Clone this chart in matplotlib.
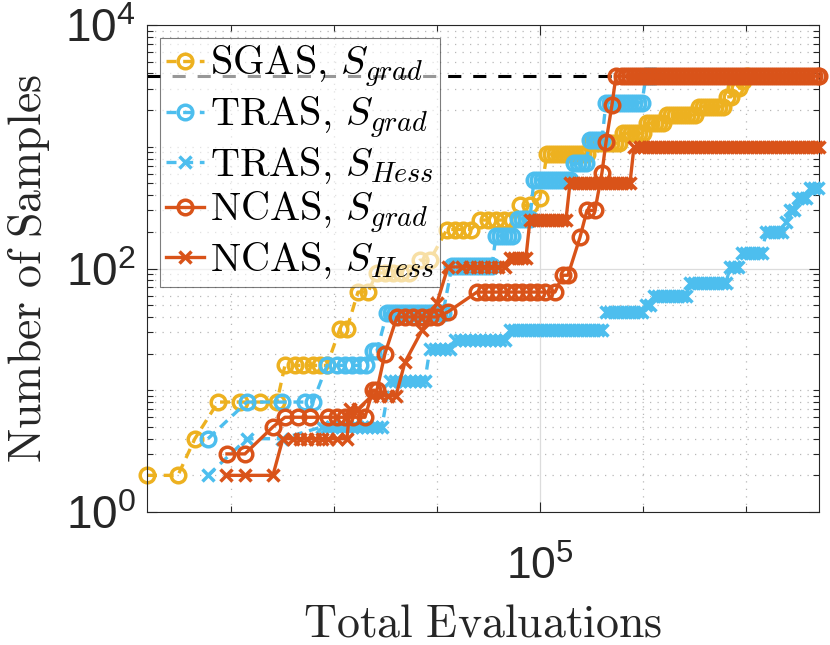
import numpy as np
import matplotlib
matplotlib.use('Agg')
import matplotlib.pyplot as plt
from matplotlib.ticker import NullFormatter

plt.rcParams['font.family'] = ['Liberation Sans', 'DejaVu Sans']
plt.rcParams['mathtext.fontset'] = 'cm'

# Total evaluations (thousands) and number of samples, per method
sgas_grad_x = [17.27, 19.83, 21.39, 23.72, 26.16, 28.61, 30.87, 31.99, 33.45, 34.67,
               36.25, 37.41, 38.60, 40.90, 42.20, 44.33, 46.36, 48.26, 50.02, 51.84,
               53.73, 55.68, 58.49, 61.16, 65.99, 68.39, 70.89, 73.46, 76.48, 79.26,
               82.14, 85.14, 88.24, 91.45, 95.63, 100.0, 103.18, 105.04, 106.93, 108.86,
               110.83, 112.83, 114.86, 116.94, 119.05, 121.20, 123.38, 125.61, 127.88, 130.18,
               132.53, 134.92, 137.36, 139.83, 142.35, 144.92, 147.54, 150.20, 152.91, 155.66,
               158.47, 161.33, 164.24, 167.21, 170.22, 173.29, 176.42, 179.60, 182.84, 186.14,
               189.50, 192.91, 196.39, 199.95, 203.56, 207.23, 210.96, 214.77, 218.64, 222.59,
               226.60, 230.70, 234.86, 239.10, 243.41, 247.80, 252.27]
sgas_grad_y = [2, 2, 4, 8, 8, 8, 8, 16, 16, 16,
               16, 16, 16, 32, 32, 64, 64, 92, 92, 92,
               92, 92, 117, 117, 209, 209, 209, 209, 250, 250,
               250, 250, 250, 330, 330, 380, 870, 870, 870, 870,
               870, 870, 870, 870, 870, 870, 870, 1070, 1070, 1070,
               1070, 1070, 1070, 1070, 1070, 1290, 1290, 1290, 1290, 1290,
               1290, 1560, 1560, 1560, 1560, 1560, 1820, 1820, 1820, 1820,
               1820, 1820, 1820, 1820, 2130, 2130, 2130, 2130, 2130, 2130,
               2130, 2570, 2570, 3030, 3030, 3500, 3800]

tras_grad_x = [22.68, 26.99, 31.56, 34.98, 36.25, 38.60, 40.36, 41.82, 43.15, 44.73,
               45.94, 47.40, 48.26, 50.47, 51.38, 52.31, 53.25, 54.21, 55.19, 56.18,
               57.19, 58.23, 59.28, 60.35, 61.43, 62.54, 63.67, 64.82, 67.48, 68.70,
               69.94, 71.20, 72.49, 73.79, 75.12, 76.48, 77.86, 79.26, 80.69, 82.14,
               83.63, 85.14, 86.67, 88.24, 90.63, 92.27, 93.94, 95.63, 97.35, 99.11,
               100.90, 102.72, 104.57, 106.45, 108.37, 110.33, 112.32, 114.35, 116.42, 118.52,
               120.66, 122.83, 125.05, 127.30, 129.60, 131.93, 134.32, 136.74, 139.21, 141.72,
               144.27, 146.88, 149.53, 152.23, 154.98, 157.78, 160.62, 163.51, 166.46]
tras_grad_y = [4, 8, 8, 8, 8, 16, 16, 16, 16, 16,
               16, 21, 21, 43, 43, 43, 43, 43, 43, 43,
               43, 43, 43, 43, 43, 43, 43, 43, 105, 105,
               105, 105, 105, 105, 105, 105, 105, 105, 105, 185,
               185, 185, 185, 185, 256, 256, 256, 256, 535, 535,
               535, 535, 535, 535, 535, 535, 535, 535, 730, 730,
               730, 730, 1140, 1140, 1140, 1140, 2300, 2300, 2300, 2300,
               2300, 2300, 2300, 2300, 2300, 2300, 3800, 3800, 3800]

tras_hess_x = [22.68, 26.99, 31.56, 37.75, 38.60, 39.47, 40.36, 41.27, 42.20, 43.15,
               44.13, 45.13, 46.15, 47.19, 48.26, 49.35, 51.15, 52.31, 53.49, 54.70,
               55.93, 57.19, 58.49, 59.81, 61.16, 62.54, 63.96, 65.41, 66.88, 68.39,
               69.94, 71.52, 73.13, 74.78, 76.48, 78.21, 79.97, 81.78, 83.63, 85.52,
               87.45, 89.03, 90.63, 92.27, 93.94, 95.63, 97.35, 99.11, 100.90, 102.72,
               104.57, 106.45, 108.37, 110.33, 112.32, 114.35, 116.42, 118.52, 120.66, 122.83,
               125.05, 127.30, 129.60, 131.93, 134.32, 136.74, 139.21, 141.72, 144.27, 146.88,
               149.53, 152.23, 154.98, 157.78, 160.62, 163.51, 166.46, 169.47, 172.53, 175.64,
               178.80, 182.03, 185.31, 188.66, 192.06, 195.53, 199.06, 202.65, 206.31, 210.03,
               213.81, 217.67, 221.60, 225.60, 229.67, 233.81, 238.03, 242.33, 246.70, 251.15,
               255.68, 260.29, 264.99, 269.77, 274.64, 279.59, 284.64, 289.77, 295.00, 300.32,
               305.74, 311.26, 316.87, 322.59, 328.41, 334.33, 340.37, 346.51]
tras_hess_y = [2, 4, 4, 5, 5, 5, 5, 5, 5, 5,
               5, 5, 5, 5, 5, 5, 12, 12, 12, 12,
               12, 12, 12, 12, 22, 22, 22, 22, 22, 26,
               26, 26, 26, 26, 26, 26, 26, 26, 26, 26,
               31, 31, 31, 31, 31, 31, 31, 31, 31, 31,
               31, 31, 31, 31, 31, 31, 31, 31, 31, 31,
               31, 31, 31, 31, 44, 44, 44, 44, 44, 44,
               44, 44, 44, 44, 50, 50, 60, 60, 60, 60,
               60, 60, 60, 60, 60, 76, 76, 76, 76, 76,
               76, 76, 76, 76, 76, 102, 102, 102, 134, 134,
               134, 134, 134, 134, 200, 200, 200, 200, 200, 240,
               300, 300, 380, 380, 380, 460, 460, 460]

ncas_grad_x = [24.69, 26.75, 30.32, 31.99, 33.91, 35.77, 38.77, 40.36, 41.82, 43.35,
               45.74, 47.40, 48.26, 50.02, 52.78, 54.70, 56.69, 59.02, 61.16, 63.10,
               66.29, 75.45, 78.21, 80.69, 83.26, 86.29, 89.43, 92.27, 95.63, 98.67,
               102.26, 106.93, 110.83, 113.33, 119.58, 123.38, 127.88, 131.93, 134.32, 137.97,
               140.46, 144.27, 146.88, 149.53, 152.23, 154.98, 157.78, 160.62, 163.51, 166.46,
               169.47, 172.53, 175.64, 178.80, 182.03, 185.31, 188.66, 192.06, 195.53, 199.06,
               202.65, 206.31, 210.03, 213.81, 217.67, 221.60, 225.60, 229.67, 233.81, 238.03,
               242.33, 246.70, 251.15, 255.68, 260.29, 264.99, 269.77, 274.64, 279.59, 284.64,
               289.77, 295.00, 300.32, 305.74, 311.26, 316.87, 322.59, 328.41, 334.33, 340.37,
               346.51, 348.06]
ncas_grad_y = [3, 3, 5, 6, 6, 6, 6, 6, 6, 6,
               6, 10, 10, 20, 40, 40, 40, 40, 40, 40,
               44, 64, 64, 64, 64, 64, 64, 64, 64, 64,
               64, 64, 88, 88, 180, 300, 300, 610, 1090, 2200,
               3800, 3800, 3800, 3800, 3800, 3800, 3800, 3800, 3800, 3800,
               3800, 3800, 3800, 3800, 3800, 3800, 3800, 3800, 3800, 3800,
               3800, 3800, 3800, 3800, 3800, 3800, 3800, 3800, 3800, 3800,
               3800, 3800, 3800, 3800, 3800, 3800, 3800, 3800, 3800, 3800,
               3800, 3800, 3800, 3800, 3800, 3800, 3800, 3800, 3800, 3800,
               3800, 3800]

ncas_hess_x = [24.58, 26.75, 30.32, 31.70, 33.15, 34.21, 35.29, 36.58, 37.75, 38.77,
               40.36, 42.20, 42.77, 44.33, 47.19, 48.91, 50.70, 52.54, 54.70, 59.02,
               63.10, 66.29, 70.57, 73.13, 75.45, 77.86, 80.33, 82.88, 85.52, 87.45,
               89.03, 90.63, 92.27, 93.94, 95.63, 97.35, 99.11, 100.90, 102.72, 104.57,
               106.45, 108.37, 110.33, 112.32, 114.35, 116.42, 118.52, 120.66, 122.83, 125.05,
               127.30, 129.60, 131.93, 134.32, 136.74, 139.21, 141.72, 144.27, 146.88, 149.53,
               152.23, 156.36, 159.18, 162.05, 164.97, 167.95, 170.99, 174.07, 177.22, 180.41,
               183.67, 186.98, 190.36, 193.79, 197.29, 200.85, 204.47, 208.16, 211.92, 215.74,
               219.64, 223.59, 227.63, 231.73, 235.92, 240.17, 244.50, 248.92, 253.41, 257.98,
               262.64, 267.37, 272.20, 277.11, 282.11, 287.20, 292.37, 297.65, 303.02, 308.49,
               314.05, 319.72, 325.49, 331.37, 337.35, 343.43, 348.06]
ncas_hess_y = [2, 2, 2, 4, 4, 4, 4, 4, 4, 4,
               4, 4, 7, 7, 9, 9, 9, 9, 17, 31,
               52, 103, 103, 103, 103, 103, 103, 103, 103, 123,
               123, 123, 123, 123, 250, 250, 250, 250, 250, 250,
               250, 250, 250, 250, 500, 500, 500, 500, 500, 500,
               500, 500, 500, 500, 500, 500, 500, 500, 500, 500,
               1000, 1000, 1000, 1000, 1000, 1000, 1000, 1000, 1000, 1000,
               1000, 1000, 1000, 1000, 1000, 1000, 1000, 1000, 1000, 1000,
               1000, 1000, 1000, 1000, 1000, 1000, 1000, 1000, 1000, 1000,
               1000, 1000, 1000, 1000, 1000, 1000, 1000, 1000, 1000, 1000,
               1000, 1000, 1000, 1000, 1000, 1000, 1000]

sample_cap = 3800
x_range = [17.27, 348.06]   # thousands of evaluations
y_range = [1, 1e4]

# MATLAB default colours
c_yel = '#EDB120'
c_blu = '#4DBEEE'
c_red = '#D95319'

fig = plt.figure(figsize=(8.3, 6.45), dpi=100)
ax = fig.add_axes([147/830, 1-512/645, 672/830, 487/645])

ax.axhline(sample_cap, color='k', lw=2.2, ls=(0, (4.3, 3.9)), zorder=1)

series = [
    (sgas_grad_x, sgas_grad_y, c_yel, 'o', (0, (3.0, 2.0)), r'$\mathrm{SGAS,}\,S_{grad}$'),
    (tras_grad_x, tras_grad_y, c_blu, 'o', (0, (3.0, 2.0)), r'$\mathrm{TRAS,}\,S_{grad}$'),
    (tras_hess_x, tras_hess_y, c_blu, 'x', (0, (3.0, 2.0)), r'$\mathrm{TRAS,}\,S_{Hess}$'),
    (ncas_grad_x, ncas_grad_y, c_red, 'o', '-', r'$\mathrm{NCAS,}\,S_{grad}$'),
    (ncas_hess_x, ncas_hess_y, c_red, 'x', '-', r'$\mathrm{NCAS,}\,S_{Hess}$'),
]
for i, (xs, ys, col, mk, ls, lab) in enumerate(series):
    ms = 10.5 if mk == 'o' else 8
    ax.plot(np.array(xs)*1e3, ys, color=col, ls=ls, lw=2.4, marker=mk,
            ms=ms, mew=2.5, mfc='none', label=lab, clip_on=False, zorder=2+i)

ax.set_xscale('log')
ax.set_yscale('log')
ax.set_xlim(x_range[0]*1e3, x_range[1]*1e3)
ax.set_ylim(*y_range)

ax.set_xticks([1e5])
ax.set_xticks([10**4.4, 10**4.6, 10**4.8, 10**5.2, 10**5.4], minor=True)
ax.set_yticks([1, 1e2, 1e4])
ymin = [k*10**e for e in range(0, 4) for k in range(2, 10)] + [10, 1000]
ax.set_yticks(sorted(ymin), minor=True)
ax.xaxis.set_minor_formatter(NullFormatter())
ax.yaxis.set_minor_formatter(NullFormatter())

ax.grid(True, which='major', color='#dcdcdc', lw=0.9, ls='-')
ax.grid(True, which='minor', color='#b8b8b8', lw=0.9, ls=(0, (1, 5)))
ax.set_axisbelow(True)

ax.tick_params(which='both', direction='in', top=True, right=True,
               color='#262626', width=0.8)
ax.tick_params(which='major', length=7)
ax.tick_params(which='minor', length=4)
ax.tick_params(axis='y', labelsize=33, pad=8, colors='#262626')
ax.tick_params(axis='x', labelsize=32, pad=24, colors='#262626')
for sp in ax.spines.values():
    sp.set_color('#262626')
    sp.set_linewidth(0.8)

ax.set_xlabel(r'$\mathrm{Total\ Evaluations}$', fontsize=33, color='#262626')
ax.set_ylabel(r'$\mathrm{Number\ of\ Samples}$', fontsize=33, color='#262626')
ax.xaxis.set_label_coords(0.5, -0.185)
ax.yaxis.set_label_coords(-0.142, 0.5)

leg = ax.legend(loc='upper left', bbox_to_anchor=(0.019, 0.973), fontsize=29,
                frameon=True, fancybox=False, framealpha=0.6, edgecolor='#262626',
                handlelength=0.95, handletextpad=0.15, borderpad=0.15,
                labelspacing=0.1, borderaxespad=0)
leg.get_frame().set_linewidth(0.8)

fig.savefig('out.png', dpi=100)
